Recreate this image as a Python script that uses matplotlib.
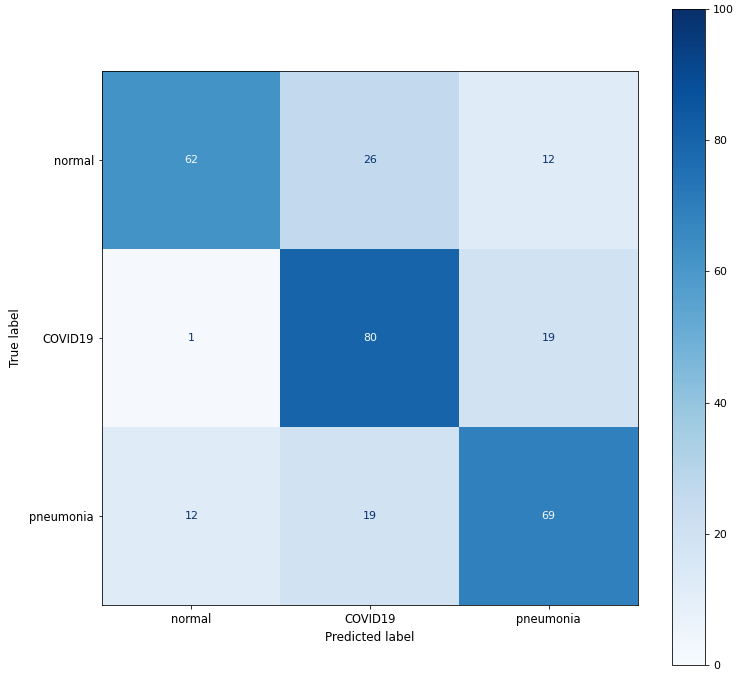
import matplotlib
matplotlib.use("Agg")
import matplotlib.pyplot as plt
import numpy as np

labels = ["normal", "COVID19", "pneumonia"]
row_normal = [62, 26, 12]
row_covid = [1, 80, 19]
row_pneu = [12, 19, 69]

cm = np.array([row_normal, row_covid, row_pneu])

W, H = 745, 678
fig = plt.figure(figsize=(W / 72, H / 72), dpi=72)
ax = fig.add_axes([102 / W, (H - 605) / H, 536 / W, 534 / H])
cax = fig.add_axes([672 / W, (H - 665) / H, 33 / W, 656 / H])

cmap = plt.get_cmap("Blues")
im = ax.imshow(cm, cmap=cmap, vmin=0, vmax=100, interpolation="nearest", aspect="auto")

thresh = (cm.max() + cm.min()) / 2.0
cmap_min, cmap_max = cmap(0.0), cmap(1.0)
for i in range(cm.shape[0]):
    for j in range(cm.shape[1]):
        color = cmap_max if cm[i, j] < thresh else cmap_min
        ax.text(j, i, str(cm[i, j]), ha="center", va="center", color=color, fontsize=11)

ax.set_xticks(range(len(labels)))
ax.set_xticklabels(labels, fontsize=11.5)
ax.set_yticks(range(len(labels)))
ax.set_yticklabels(labels, fontsize=11.5)
ax.tick_params(pad=4.5)
ax.set_xlabel("Predicted label", fontsize=12, labelpad=5)
ax.set_ylabel("True label", fontsize=12, labelpad=7)
ax.set_ylim(len(labels) - 0.5, -0.5)

cb = fig.colorbar(im, cax=cax)
cb.set_ticks([0, 20, 40, 60, 80, 100])
cb.ax.tick_params(labelsize=11, pad=4.5)

fig.savefig("out.png", dpi=72)
